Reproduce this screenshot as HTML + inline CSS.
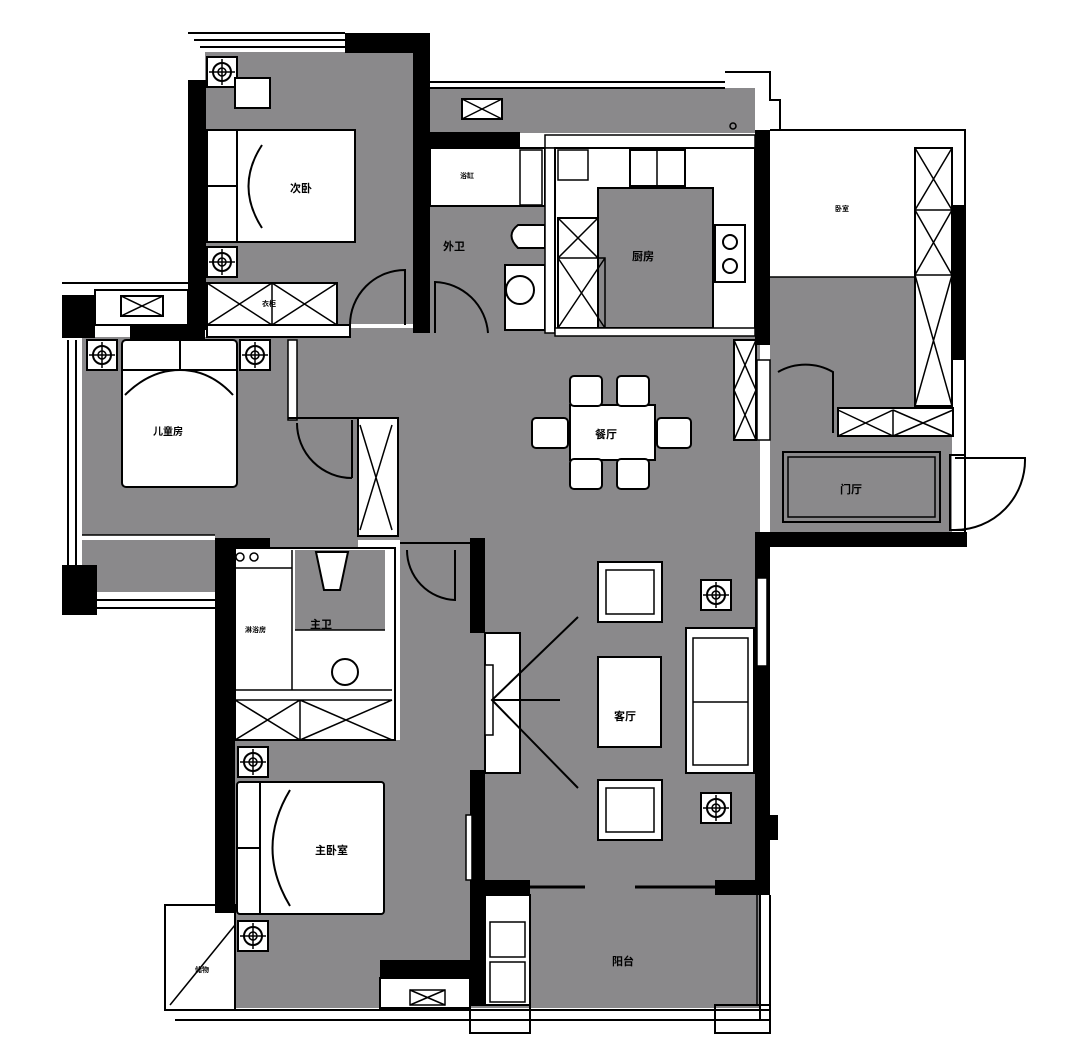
<!DOCTYPE html>
<html><head><meta charset="utf-8"><style>
html,body{margin:0;padding:0;background:#fff;}
svg{display:block}
text{font-family:"Liberation Sans","Noto Sans CJK SC",sans-serif;font-weight:bold;fill:#000}
</style></head><body>
<svg width="1080" height="1058" viewBox="0 0 1080 1058" xmlns="http://www.w3.org/2000/svg">
<defs>
<g id="lamp"><rect x="-15" y="-15" width="30" height="30" fill="#fff" stroke="#000" stroke-width="2"/><circle r="9" fill="none" stroke="#000" stroke-width="2"/><circle r="4" fill="none" stroke="#000" stroke-width="1.5"/><path d="M-13 0H13M0-13V13" stroke="#000" stroke-width="1.5"/></g>
<g id="chair"><rect x="-32" y="-30" width="64" height="60" fill="#fff" stroke="#000" stroke-width="2"/><rect x="-24" y="-22" width="48" height="44" fill="#fff" stroke="#000" stroke-width="1.5"/></g>
</defs>
<g fill="#8a898b">
<rect x="205" y="52" width="208" height="272"/>
<rect x="430" y="88" width="325" height="45"/>
<rect x="430" y="205" width="115" height="128"/>
<rect x="770" y="275" width="145" height="135"/>
<rect x="82" y="337" width="276" height="255"/>
<rect x="290" y="328" width="470" height="212"/>
<rect x="770" y="410" width="182" height="122"/>
<rect x="400" y="540" width="360" height="350"/>
<rect x="235" y="740" width="235" height="268"/>
<rect x="470" y="890" width="290" height="118"/>
</g>
<!-- outer frames -->
<g fill="none" stroke="#000" stroke-width="2">
<path d="M188 33H345M194 40H345M200 47H345"/>
<path d="M430 82H725M430 88H725"/>
<path d="M725 72H770V100H780V130"/>
<path d="M770 130H965V545"/>
<path d="M62 283H188M62 600H215M62 608H215"/>
<path d="M68 340V565M76 340V565"/>
<path d="M165 905H235V1010H165Z"/>
<path d="M165 1010H770M175 1020H770"/>
<path d="M770 895V1030M760 895V1020"/>
<rect x="715" y="1005" width="55" height="28"/>
<rect x="470" y="1005" width="60" height="28"/>
<path d="M955 458H1025A70 70 0 0 1 955 530"/>
<rect x="950" y="455" width="15" height="75"/>
</g>
<!-- black walls -->
<g fill="#000">
<rect x="188" y="80" width="18" height="250"/>
<rect x="345" y="33" width="85" height="20"/>
<rect x="413" y="33" width="17" height="300"/>
<rect x="430" y="132" width="90" height="16"/>
<rect x="755" y="130" width="15" height="215"/>
<rect x="952" y="205" width="14" height="155"/>
<rect x="62" y="295" width="33" height="43"/>
<rect x="130" y="325" width="75" height="15"/>
<rect x="62" y="565" width="35" height="50"/>
<rect x="215" y="538" width="20" height="375"/>
<rect x="235" y="538" width="35" height="12"/>
<rect x="470" y="538" width="15" height="95"/>
<rect x="470" y="770" width="15" height="115"/>
<rect x="470" y="880" width="60" height="15"/>
<rect x="715" y="880" width="55" height="15"/>
<rect x="755" y="535" width="15" height="360"/>
<rect x="755" y="532" width="212" height="15"/>
<rect x="380" y="960" width="90" height="18"/>
<rect x="470" y="895" width="15" height="110"/>
<rect x="770" y="815" width="8" height="25"/>
</g>
<!-- 次卧 furniture -->
<use href="#lamp" x="222" y="72"/>
<rect x="235" y="78" width="35" height="30" fill="#fff" stroke="#000" stroke-width="2"/>
<rect x="207" y="130" width="148" height="112" fill="#fff" stroke="#000" stroke-width="2"/>
<path d="M207 130V242M237 130V242M207 186H237M262 145Q235 186 262 228" stroke="#000" stroke-width="2" fill="none"/>
<use href="#lamp" x="222" y="262"/>
<rect x="207" y="283" width="130" height="42" fill="#fff" stroke="#000" stroke-width="2"/>
<path d="M207 283L272 325M272 283L207 325M272 283V325M272 283L337 325M337 283L272 325" stroke="#000" stroke-width="1.5"/>
<rect x="207" y="325" width="143" height="12" fill="#fff" stroke="#000" stroke-width="2"/>
<path d="M350 325A55 55 0 0 1 405 270V325" fill="none" stroke="#000" stroke-width="2"/>
<text x="290" y="192" font-size="11">次卧</text>
<text x="262" y="306" font-size="7">衣柜</text>
<!-- 外卫 -->
<rect x="430" y="148" width="115" height="58" fill="#fff" stroke="#000" stroke-width="2"/>
<rect x="520" y="150" width="22" height="55" fill="#fff" stroke="#000" stroke-width="1.5"/>
<text x="460" y="178" font-size="7">浴缸</text>
<path d="M545 225H518Q505 235 518 248H545Z" fill="#fff" stroke="#000" stroke-width="2"/>
<rect x="505" y="265" width="40" height="65" fill="#fff" stroke="#000" stroke-width="2"/>
<circle cx="520" cy="290" r="14" fill="#fff" stroke="#000" stroke-width="2"/>
<text x="443" y="250" font-size="11">外卫</text>
<path d="M435 333V282A55 55 0 0 1 488 333" fill="none" stroke="#000" stroke-width="2"/>
<!-- kitchen -->
<rect x="545" y="135" width="210" height="13" fill="#fff" stroke="#000" stroke-width="1.5"/>
<rect x="545" y="148" width="10" height="185" fill="#fff" stroke="#000" stroke-width="1.5"/>
<rect x="555" y="148" width="200" height="182" fill="#fff" stroke="#000" stroke-width="2"/>
<rect x="598" y="188" width="115" height="140" fill="#8a898b" stroke="#000" stroke-width="2"/>
<rect x="630" y="150" width="55" height="36" fill="#fff" stroke="#000" stroke-width="2"/>
<path d="M657 150V186" stroke="#000" stroke-width="1.5"/>
<rect x="715" y="225" width="30" height="57" fill="#fff" stroke="#000" stroke-width="2"/>
<circle cx="730" cy="242" r="7" fill="none" stroke="#000" stroke-width="2"/><circle cx="730" cy="266" r="7" fill="none" stroke="#000" stroke-width="2"/>
<rect x="558" y="150" width="30" height="30" fill="#fff" stroke="#000" stroke-width="1.5"/>
<rect x="558" y="218" width="40" height="110" fill="#fff" stroke="#000" stroke-width="2"/>
<path d="M558 218L598 258M598 218L558 258M558 258H605V328H558M558 258L605 328M605 258L558 328" stroke="#000" stroke-width="1.5" fill="none"/>
<text x="632" y="260" font-size="11">厨房</text>
<rect x="462" y="99" width="40" height="20" fill="#fff" stroke="#000" stroke-width="2"/>
<path d="M462 99L502 119M502 99L462 119" stroke="#000" stroke-width="1.5"/>
<circle cx="733" cy="126" r="3" fill="none" stroke="#000" stroke-width="1.5"/>
<rect x="555" y="328" width="200" height="8" fill="#fff" stroke="#000" stroke-width="1.5"/>
<!-- upper right room -->
<rect x="770" y="145" width="145" height="132" fill="#fff"/>
<path d="M770 277H915" stroke="#000" stroke-width="1.5"/>
<rect x="915" y="148" width="37" height="258" fill="#fff" stroke="#000" stroke-width="2"/>
<path d="M915 210H952M915 275H952M915 148L952 210M952 148L915 210M915 210L952 275M952 210L915 275M915 275L952 406M952 275L915 406" stroke="#000" stroke-width="1.5"/>
<text x="835" y="211" font-size="7">卧室</text>
<rect x="838" y="408" width="115" height="28" fill="#fff" stroke="#000" stroke-width="2"/>
<path d="M838 410L893 436M893 410L838 436M893 410V436M893 410L953 436M953 410L893 436" stroke="#000" stroke-width="1.5"/>
<path d="M833 433V372A55 55 0 0 0 778 372" fill="none" stroke="#000" stroke-width="2"/>
<rect x="757" y="360" width="13" height="80" fill="#fff" stroke="#000" stroke-width="1.5"/>
<rect x="734" y="340" width="22" height="100" fill="#fff" stroke="#000" stroke-width="2"/>
<path d="M734 340L756 390M756 340L734 390M734 390L756 440M756 390L734 440" stroke="#000" stroke-width="1.5"/>
<!-- foyer -->
<rect x="783" y="452" width="157" height="70" fill="none" stroke="#000" stroke-width="2"/>
<rect x="788" y="457" width="147" height="60" fill="none" stroke="#000" stroke-width="1.5"/>
<text x="840" y="493" font-size="11">门厅</text>
<!-- child room -->
<rect x="95" y="290" width="93" height="35" fill="#fff" stroke="#000" stroke-width="2"/>
<rect x="121" y="296" width="42" height="20" fill="#fff" stroke="#000" stroke-width="2"/>
<path d="M121 296L163 316M163 296L121 316" stroke="#000" stroke-width="1.5"/>
<use href="#lamp" x="102" y="355"/><use href="#lamp" x="255" y="355"/>
<rect x="122" y="340" width="115" height="147" rx="4" fill="#fff" stroke="#000" stroke-width="2"/>
<path d="M122 370H237M180 340V370M125 395Q150 370 180 370Q210 370 233 395" stroke="#000" stroke-width="2" fill="none"/>
<text x="153" y="435" font-size="10">儿童房</text>
<rect x="82" y="535" width="133" height="5" fill="#fff"/>
<path d="M82 535H215" stroke="#000" stroke-width="1.5"/>
<rect x="288" y="340" width="9" height="80" fill="#fff" stroke="#000" stroke-width="1.5"/>
<path d="M288 418H360" stroke="#000" stroke-width="2"/>
<rect x="358" y="418" width="40" height="118" fill="#fff" stroke="#000" stroke-width="2"/>
<path d="M360 425L392 530M392 425L360 530" stroke="#000" stroke-width="1.5"/>
<path d="M352 478V420M352 478A55 55 0 0 1 297 423" fill="none" stroke="#000" stroke-width="2"/>
<!-- dining -->
<rect x="570" y="405" width="85" height="55" fill="#fff" stroke="#000" stroke-width="2"/>
<g fill="#fff" stroke="#000" stroke-width="2">
<rect x="570" y="376" width="32" height="30" rx="4"/><rect x="617" y="376" width="32" height="30" rx="4"/>
<rect x="570" y="459" width="32" height="30" rx="4"/><rect x="617" y="459" width="32" height="30" rx="4"/>
<rect x="532" y="418" width="36" height="30" rx="4"/><rect x="657" y="418" width="34" height="30" rx="4"/>
</g>
<text x="595" y="438" font-size="11">餐厅</text>
<!-- master bath -->
<rect x="235" y="548" width="160" height="192" fill="#fff" stroke="#000" stroke-width="2"/>
<rect x="295" y="550" width="90" height="80" fill="#8a898b"/>
<path d="M235 568H292M292 550V690M295 630H385M235 690H392" stroke="#000" stroke-width="1.5" fill="none"/>
<path d="M316 552H348L340 590H324Z" fill="#fff" stroke="#000" stroke-width="2"/>
<circle cx="345" cy="672" r="13" fill="#fff" stroke="#000" stroke-width="2"/>
<circle cx="240" cy="557" r="4" fill="none" stroke="#000" stroke-width="1.5"/><circle cx="254" cy="557" r="4" fill="none" stroke="#000" stroke-width="1.5"/>
<text x="310" y="628" font-size="11">主卫</text>
<text x="245" y="632" font-size="7">淋浴房</text>
<path d="M235 700H392M235 740H392M235 700L300 740M300 700L235 740M300 700V740M300 700L392 740M392 700L300 740" stroke="#000" stroke-width="1.5" fill="none"/>
<path d="M400 543H470M407 550A50 50 0 0 0 455 600V550" fill="none" stroke="#000" stroke-width="2"/>
<!-- master bedroom -->
<use href="#lamp" x="253" y="762"/><use href="#lamp" x="253" y="936"/>
<rect x="237" y="782" width="147" height="132" rx="3" fill="#fff" stroke="#000" stroke-width="2"/>
<path d="M237 848H260M260 782V914M290 790Q255 848 290 906" stroke="#000" stroke-width="2" fill="none"/>
<text x="315" y="854" font-size="11">主卧室</text>
<path d="M170 1005L235 925" stroke="#000" stroke-width="1.5"/>
<text x="195" y="972" font-size="7">储物</text>
<!-- corridor strips -->
<rect x="466" y="815" width="6" height="65" fill="#fff" stroke="#000" stroke-width="1.5"/>
<rect x="485" y="633" width="35" height="140" fill="#fff" stroke="#000" stroke-width="2"/>
<rect x="485" y="665" width="8" height="70" fill="#fff" stroke="#000" stroke-width="1.5"/>
<path d="M578 617L492 700L578 788M492 700H560" stroke="#000" stroke-width="2" fill="none"/>
<!-- living -->
<use href="#chair" x="630" y="592"/><use href="#chair" x="630" y="810"/>
<rect x="598" y="657" width="63" height="90" fill="#fff" stroke="#000" stroke-width="2"/>
<text x="614" y="720" font-size="11">客厅</text>
<rect x="686" y="628" width="68" height="145" fill="#fff" stroke="#000" stroke-width="2"/>
<path d="M693 638H748V765H693ZM693 702H748" stroke="#000" stroke-width="1.5" fill="none"/>
<use href="#lamp" x="716" y="595"/><use href="#lamp" x="716" y="808"/>
<rect x="757" y="578" width="10" height="88" fill="#fff" stroke="#000" stroke-width="1.5"/>
<path d="M530 887H585M635 887H715" stroke="#000" stroke-width="3"/>
<!-- balcony -->
<rect x="485" y="895" width="45" height="110" fill="#fff" stroke="#000" stroke-width="2"/>
<rect x="490" y="922" width="35" height="35" fill="#fff" stroke="#000" stroke-width="1.5"/>
<rect x="490" y="962" width="35" height="40" fill="#fff" stroke="#000" stroke-width="1.5"/>
<text x="612" y="965" font-size="11">阳台</text>
<rect x="380" y="978" width="90" height="30" fill="#fff" stroke="#000" stroke-width="2"/>
<rect x="410" y="990" width="35" height="15" fill="#fff" stroke="#000" stroke-width="1.5"/>
<path d="M410 990L445 1005M445 990L410 1005" stroke="#000" stroke-width="1.5"/>
<path d="M757 895V1005" stroke="#000" stroke-width="1.5"/>
</svg>
</body></html>
